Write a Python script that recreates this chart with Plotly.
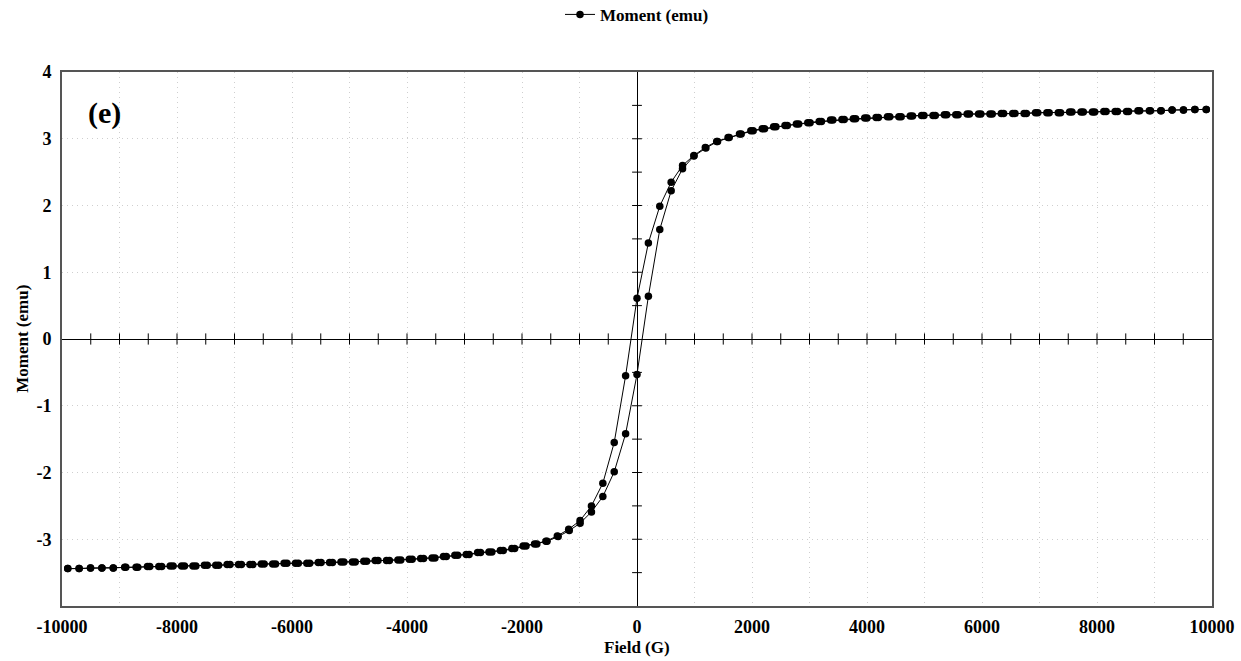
import plotly.graph_objects as go

# ---------------- data ----------------
field_desc = [9900, 9702, 9504, 9306, 9108, 8910, 8712, 8514, 8316, 8118, 7920, 7722, 7524, 7326, 7128,
              6930, 6732, 6534, 6336, 6138, 5940, 5742, 5544, 5346, 5148, 4950, 4752, 4554, 4356, 4158,
              3960, 3762, 3564, 3366, 3168, 2970, 2772, 2574, 2376, 2178, 1980, 1782, 1584, 1386, 1188,
              990, 792, 594, 396, 198, 0, -198, -396, -594, -792, -990,
              -1188, -1386, -1584, -1782, -1980, -2178, -2376, -2574, -2772, -2970, -3168, -3366, -3564,
              -3762, -3960, -4158, -4356, -4554, -4752, -4950, -5148, -5346, -5544, -5742, -5940, -6138,
              -6336, -6534, -6732, -6930, -7128, -7326, -7524, -7722, -7920, -8118, -8316, -8514, -8712,
              -8910, -9108, -9306, -9504, -9702, -9900]
moment_desc = [3.44, 3.44, 3.43, 3.43, 3.42, 3.42, 3.42, 3.41, 3.41, 3.41, 3.40, 3.40, 3.40, 3.39, 3.39,
               3.39, 3.38, 3.38, 3.38, 3.37, 3.37, 3.37, 3.36, 3.36, 3.35, 3.35, 3.34, 3.33, 3.33, 3.32,
               3.31, 3.30, 3.29, 3.28, 3.26, 3.24, 3.22, 3.20, 3.18, 3.15, 3.12, 3.07, 3.02, 2.96, 2.87,
               2.75, 2.60, 2.35, 1.99, 1.44, 0.61, -0.55, -1.55, -2.16, -2.50, -2.72,
               -2.85, -2.95, -3.03, -3.07, -3.10, -3.14, -3.17, -3.19, -3.20, -3.23, -3.24, -3.26, -3.28,
               -3.29, -3.30, -3.31, -3.32, -3.32, -3.33, -3.34, -3.34, -3.35, -3.35, -3.36, -3.36, -3.36,
               -3.37, -3.37, -3.38, -3.38, -3.38, -3.39, -3.39, -3.40, -3.40, -3.40, -3.41, -3.41, -3.42,
               -3.42, -3.43, -3.43, -3.43, -3.44, -3.44]

field_asc = [-9900, -9702, -9504, -9306, -9108, -8890, -8682, -8474, -8266, -8068, -7870, -7672, -7474,
             -7276, -7078, -6880, -6682, -6484, -6286, -6088, -5890, -5692, -5494, -5296, -5098, -4900,
             -4702, -4504, -4306, -4108, -3910, -3712, -3514, -3316, -3118, -2920, -2722, -2524, -2326,
             -2128, -1930, -1742, -1564, -1371, -1178, -990, -792, -594, -396, -198, 0, 198, 396, 594,
             792, 990, 1198, 1401, 1604, 1812, 2020, 2218, 2416, 2614, 2812, 3010, 3208, 3406, 3604,
             3802, 4000, 4198, 4396, 4594, 4792, 4990, 5188, 5386, 5584, 5782, 5980, 6178, 6376, 6574,
             6772, 6970, 7168, 7366, 7564, 7762, 7960, 8158, 8356, 8549, 8742, 8930, 9118, 9306, 9504,
             9702, 9900]
moment_asc = [-3.44, -3.44, -3.43, -3.43, -3.43, -3.42, -3.42, -3.41, -3.41, -3.40, -3.40, -3.40, -3.39,
              -3.39, -3.38, -3.38, -3.38, -3.37, -3.37, -3.36, -3.36, -3.36, -3.35, -3.35, -3.34, -3.34,
              -3.33, -3.32, -3.32, -3.31, -3.30, -3.29, -3.28, -3.26, -3.24, -3.23, -3.20, -3.19, -3.17,
              -3.14, -3.10, -3.07, -3.03, -2.96, -2.87, -2.76, -2.59, -2.36, -1.99, -1.42, -0.53, 0.64,
              1.64, 2.22, 2.55, 2.74, 2.86, 2.96, 3.02, 3.07, 3.12, 3.15, 3.18, 3.20, 3.22, 3.24, 3.26,
              3.28, 3.29, 3.30, 3.31, 3.32, 3.33, 3.33, 3.34, 3.35, 3.35, 3.36, 3.36, 3.37, 3.37, 3.37,
              3.38, 3.38, 3.38, 3.39, 3.39, 3.39, 3.40, 3.40, 3.40, 3.41, 3.41, 3.41, 3.42, 3.42, 3.42,
              3.43, 3.43, 3.44, 3.44]

x_tick_vals = [-10000, -8000, -6000, -4000, -2000, 0, 2000, 4000, 6000, 8000, 10000]
x_tick_text = ["-10000", "-8000", "-6000", "-4000", "-2000", "0", "2000", "4000", "6000", "8000", "10000"]
y_tick_vals = [-3, -2, -1, 0, 1, 2, 3, 4]
y_tick_text = ["-3", "-2", "-1", "0", "1", "2", "3", "4"]
x_axis_marks = [-9500, -9000, -8500, -8000, -7500, -7000, -6500, -6000, -5500, -5000, -4500, -4000,
                -3500, -3000, -2500, -2000, -1500, -1000, -500, 500, 1000, 1500, 2000, 2500, 3000,
                3500, 4000, 4500, 5000, 5500, 6000, 6500, 7000, 7500, 8000, 8500, 9000, 9500]
y_axis_marks = [-3.5, -3, -2.5, -2, -1.5, -1, -0.5, 0.5, 1, 1.5, 2, 2.5, 3, 3.5]

series_name = "Moment (emu)"
x_title = "Field (G)"
y_title = "Moment (emu)"
panel_label = "(e)"

FONT = "Liberation Serif"

fig = go.Figure()

# tick marks crossing the central axes
fig.add_trace(go.Scatter(
    x=x_axis_marks, y=[0] * len(x_axis_marks), mode="markers",
    marker=dict(symbol="line-ns", size=8, line=dict(width=1, color="black")),
    showlegend=False, hoverinfo="skip"))
fig.add_trace(go.Scatter(
    x=[0] * len(y_axis_marks), y=y_axis_marks, mode="markers",
    marker=dict(symbol="line-ew", size=7, line=dict(width=1, color="black")),
    showlegend=False, hoverinfo="skip"))

fig.add_trace(go.Scatter(
    x=field_desc + field_asc, y=moment_desc + moment_asc,
    mode="lines+markers", name=series_name,
    line=dict(color="black", width=1),
    marker=dict(symbol="circle", size=7.5, color="black")))

grid_col = "#cfcfcf"
grid_dash = "1px,4px"
fig.update_layout(
    width=1241, height=661,
    margin=dict(l=62, r=29, t=72, b=55, autoexpand=False),
    paper_bgcolor="white", plot_bgcolor="white",
    font=dict(family=FONT, color="black"),
    showlegend=True,
    legend=dict(orientation="h", x=0.5, xanchor="center", y=1.107, yanchor="middle",
                font=dict(family=FONT, size=17, weight="bold"), bgcolor="rgba(0,0,0,0)"),
    xaxis=dict(range=[-10000, 10000], tickvals=x_tick_vals, ticktext=x_tick_text,
               tickfont=dict(family=FONT, size=18, weight="bold"),
               showgrid=True, gridcolor=grid_col, griddash=grid_dash, gridwidth=1,
               minor=dict(dtick=1000, tick0=0, showgrid=True, gridcolor=grid_col,
                          griddash=grid_dash, gridwidth=1),
               zeroline=True, zerolinecolor="black", zerolinewidth=1,
               showline=True, linecolor="#555555", linewidth=2, mirror=True,
               ticks="", ticklabelstandoff=3),
    yaxis=dict(range=[-4, 4], tickvals=y_tick_vals, ticktext=y_tick_text,
               tickfont=dict(family=FONT, size=18, weight="bold"),
               showgrid=True, gridcolor=grid_col, griddash=grid_dash, gridwidth=1,
               zeroline=True, zerolinecolor="black", zerolinewidth=1,
               showline=True, linecolor="#555555", linewidth=2, mirror=True,
               ticks="", ticklabelstandoff=5),
)

fig.add_annotation(text=x_title, xref="paper", yref="paper", x=0.5, y=-0.077,
                   xanchor="center", yanchor="middle", showarrow=False,
                   font=dict(family=FONT, size=17, weight="bold"))
fig.add_annotation(text=y_title, xref="paper", yref="paper", x=-0.035, y=0.5,
                   xanchor="center", yanchor="middle", showarrow=False, textangle=-90,
                   font=dict(family=FONT, size=17, weight="bold"))
fig.add_annotation(text=panel_label, xref="paper", yref="paper", x=0.021, y=0.923,
                   xanchor="left", yanchor="middle", showarrow=False,
                   font=dict(family=FONT, size=30, weight="bold"))

fig.write_html("out.html", config={"displayModeBar": False},
               post_script="document.body.style.margin='0';")
